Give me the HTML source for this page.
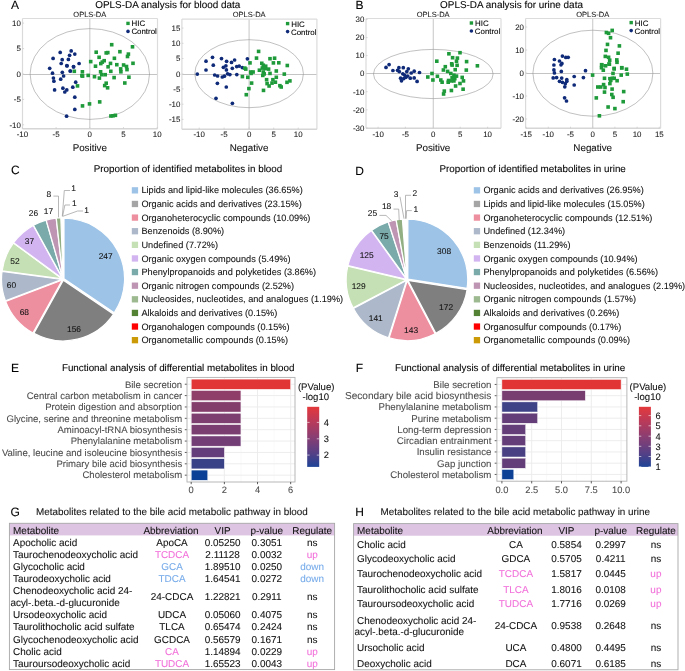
<!DOCTYPE html>
<html><head><meta charset="utf-8"><style>
html,body{margin:0;padding:0;background:#fff;}
body{width:685px;height:671px;overflow:hidden;}
svg{display:block;font-family:"Liberation Sans", sans-serif;will-change:transform;} text{stroke:currentColor;stroke-width:0.08px;text-rendering:geometricPrecision;}
</style></head><body>
<svg width="685" height="671" viewBox="0 0 685 671">
<defs><linearGradient id="cbgrad" x1="0" y1="0" x2="0" y2="1">
<stop offset="0" stop-color="#E4393B"/><stop offset="0.25" stop-color="#B83A5A"/><stop offset="0.5" stop-color="#8A3E72"/>
<stop offset="0.75" stop-color="#5A4084"/><stop offset="1" stop-color="#1E4396"/></linearGradient></defs>
<rect width="685" height="671" fill="#fff"/>
<text x="11.00" y="9.00" font-size="12" text-anchor="start" fill="#000" style="color:#000" >A</text>
<text x="355.50" y="9.20" font-size="12" text-anchor="start" fill="#000" style="color:#000" >B</text>
<text x="11.00" y="174.00" font-size="12" text-anchor="start" fill="#000" style="color:#000" >C</text>
<text x="355.20" y="174.80" font-size="12" text-anchor="start" fill="#000" style="color:#000" >D</text>
<text x="11.00" y="371.80" font-size="12" text-anchor="start" fill="#000" style="color:#000" >E</text>
<text x="355.80" y="371.80" font-size="12" text-anchor="start" fill="#000" style="color:#000" >F</text>
<text x="10.60" y="516.30" font-size="12" text-anchor="start" fill="#000" style="color:#000" >G</text>
<text x="355.20" y="516.00" font-size="12" text-anchor="start" fill="#000" style="color:#000" >H</text>
<line x1="22.50" y1="74.50" x2="157.50" y2="74.50" stroke="#c4c4c4" stroke-width="1.0" />
<line x1="89.80" y1="18.50" x2="89.80" y2="128.70" stroke="#d0d0d0" stroke-width="1.2" />
<ellipse cx="89.8" cy="74.0" rx="59.7" ry="45.4" fill="none" stroke="#8e8e8e" stroke-width="0.55"/>
<line x1="22.50" y1="18.50" x2="157.50" y2="18.50" stroke="#dcdcdc" stroke-width="1.2" />
<line x1="22.50" y1="18.50" x2="22.50" y2="128.70" stroke="#dadada" stroke-width="1.2" />
<line x1="157.50" y1="18.50" x2="157.50" y2="128.70" stroke="#dcdcdc" stroke-width="1.2" />
<line x1="22.50" y1="128.70" x2="157.50" y2="128.70" stroke="#d6d6d6" stroke-width="1.5" />
<line x1="22.40" y1="127.10" x2="22.40" y2="128.70" stroke="#c8c8c8" stroke-width="0.7" />
<text x="22.40" y="137.00" font-size="7.9" text-anchor="middle" fill="#222" style="color:#222" >-10</text>
<line x1="56.10" y1="127.10" x2="56.10" y2="128.70" stroke="#c8c8c8" stroke-width="0.7" />
<text x="56.10" y="137.00" font-size="7.9" text-anchor="middle" fill="#222" style="color:#222" >-5</text>
<line x1="89.80" y1="127.10" x2="89.80" y2="128.70" stroke="#c8c8c8" stroke-width="0.7" />
<text x="89.80" y="137.00" font-size="7.9" text-anchor="middle" fill="#222" style="color:#222" >0</text>
<line x1="123.50" y1="127.10" x2="123.50" y2="128.70" stroke="#c8c8c8" stroke-width="0.7" />
<text x="123.50" y="137.00" font-size="7.9" text-anchor="middle" fill="#222" style="color:#222" >5</text>
<line x1="157.20" y1="127.10" x2="157.20" y2="128.70" stroke="#c8c8c8" stroke-width="0.7" />
<text x="157.20" y="137.00" font-size="7.9" text-anchor="middle" fill="#222" style="color:#222" >10</text>
<line x1="22.50" y1="23.10" x2="24.10" y2="23.10" stroke="#c8c8c8" stroke-width="0.7" />
<text x="20.90" y="25.90" font-size="7.9" text-anchor="end" fill="#222" style="color:#222" >10</text>
<line x1="22.50" y1="48.60" x2="24.10" y2="48.60" stroke="#c8c8c8" stroke-width="0.7" />
<text x="20.90" y="51.40" font-size="7.9" text-anchor="end" fill="#222" style="color:#222" >5</text>
<line x1="22.50" y1="74.00" x2="24.10" y2="74.00" stroke="#c8c8c8" stroke-width="0.7" />
<text x="20.90" y="76.80" font-size="7.9" text-anchor="end" fill="#222" style="color:#222" >0</text>
<line x1="22.50" y1="99.40" x2="24.10" y2="99.40" stroke="#c8c8c8" stroke-width="0.7" />
<text x="20.90" y="102.20" font-size="7.9" text-anchor="end" fill="#222" style="color:#222" >-5</text>
<line x1="22.50" y1="124.80" x2="24.10" y2="124.80" stroke="#c8c8c8" stroke-width="0.7" />
<text x="20.90" y="127.60" font-size="7.9" text-anchor="end" fill="#222" style="color:#222" >-10</text>
<circle cx="60.2" cy="52.4" r="1.85" fill="#0e2a78"/>
<circle cx="71.2" cy="50.9" r="1.85" fill="#0e2a78"/>
<circle cx="74.8" cy="54.1" r="1.85" fill="#0e2a78"/>
<circle cx="69.6" cy="55.3" r="1.85" fill="#0e2a78"/>
<circle cx="53.1" cy="58.4" r="1.85" fill="#0e2a78"/>
<circle cx="62.2" cy="59.7" r="1.85" fill="#0e2a78"/>
<circle cx="68.4" cy="59.4" r="1.85" fill="#0e2a78"/>
<circle cx="79.1" cy="63.5" r="1.85" fill="#0e2a78"/>
<circle cx="61.2" cy="63.5" r="1.85" fill="#0e2a78"/>
<circle cx="66.8" cy="65.7" r="1.85" fill="#0e2a78"/>
<circle cx="73.5" cy="66.6" r="1.85" fill="#0e2a78"/>
<circle cx="49.7" cy="68.3" r="1.85" fill="#0e2a78"/>
<circle cx="70.2" cy="71.0" r="1.85" fill="#0e2a78"/>
<circle cx="52.5" cy="73.2" r="1.85" fill="#0e2a78"/>
<circle cx="62.3" cy="72.3" r="1.85" fill="#0e2a78"/>
<circle cx="63.6" cy="76.0" r="1.85" fill="#0e2a78"/>
<circle cx="60.7" cy="79.2" r="1.85" fill="#0e2a78"/>
<circle cx="53.4" cy="78.0" r="1.85" fill="#0e2a78"/>
<circle cx="53.9" cy="81.2" r="1.85" fill="#0e2a78"/>
<circle cx="75.7" cy="82.2" r="1.85" fill="#0e2a78"/>
<circle cx="72.8" cy="87.2" r="1.85" fill="#0e2a78"/>
<circle cx="62.9" cy="88.2" r="1.85" fill="#0e2a78"/>
<circle cx="66.8" cy="89.9" r="1.85" fill="#0e2a78"/>
<circle cx="64.8" cy="92.0" r="1.85" fill="#0e2a78"/>
<circle cx="54.6" cy="89.9" r="1.85" fill="#0e2a78"/>
<circle cx="74.8" cy="97.2" r="1.85" fill="#0e2a78"/>
<circle cx="74.8" cy="109.4" r="1.85" fill="#0e2a78"/>
<circle cx="66.6" cy="116.2" r="1.85" fill="#0e2a78"/>
<circle cx="67.1" cy="65.8" r="1.85" fill="#0e2a78"/>
<circle cx="73.6" cy="66.9" r="1.85" fill="#0e2a78"/>
<circle cx="70.4" cy="71.0" r="1.85" fill="#0e2a78"/>
<rect x="109.9" y="42.9" width="3.6" height="3.6" fill="#1f9a3a"/>
<rect x="130.7" y="45.0" width="3.6" height="3.6" fill="#1f9a3a"/>
<rect x="94.4" y="50.4" width="3.6" height="3.6" fill="#1f9a3a"/>
<rect x="104.4" y="51.1" width="3.6" height="3.6" fill="#1f9a3a"/>
<rect x="106.0" y="50.8" width="3.6" height="3.6" fill="#1f9a3a"/>
<rect x="118.1" y="49.9" width="3.6" height="3.6" fill="#1f9a3a"/>
<rect x="126.6" y="52.3" width="3.6" height="3.6" fill="#1f9a3a"/>
<rect x="125.7" y="54.7" width="3.6" height="3.6" fill="#1f9a3a"/>
<rect x="97.3" y="55.5" width="3.6" height="3.6" fill="#1f9a3a"/>
<rect x="112.6" y="56.5" width="3.6" height="3.6" fill="#1f9a3a"/>
<rect x="88.9" y="59.8" width="3.6" height="3.6" fill="#1f9a3a"/>
<rect x="102.4" y="58.9" width="3.6" height="3.6" fill="#1f9a3a"/>
<rect x="100.5" y="60.3" width="3.6" height="3.6" fill="#1f9a3a"/>
<rect x="99.0" y="61.8" width="3.6" height="3.6" fill="#1f9a3a"/>
<rect x="108.7" y="61.6" width="3.6" height="3.6" fill="#1f9a3a"/>
<rect x="115.0" y="62.9" width="3.6" height="3.6" fill="#1f9a3a"/>
<rect x="121.8" y="63.2" width="3.6" height="3.6" fill="#1f9a3a"/>
<rect x="124.7" y="64.7" width="3.6" height="3.6" fill="#1f9a3a"/>
<rect x="131.2" y="61.5" width="3.6" height="3.6" fill="#1f9a3a"/>
<rect x="93.7" y="64.4" width="3.6" height="3.6" fill="#1f9a3a"/>
<rect x="106.3" y="65.0" width="3.6" height="3.6" fill="#1f9a3a"/>
<rect x="118.9" y="67.1" width="3.6" height="3.6" fill="#1f9a3a"/>
<rect x="125.2" y="67.8" width="3.6" height="3.6" fill="#1f9a3a"/>
<rect x="119.1" y="70.0" width="3.6" height="3.6" fill="#1f9a3a"/>
<rect x="109.0" y="69.5" width="3.6" height="3.6" fill="#1f9a3a"/>
<rect x="98.8" y="70.0" width="3.6" height="3.6" fill="#1f9a3a"/>
<rect x="80.6" y="70.0" width="3.6" height="3.6" fill="#1f9a3a"/>
<rect x="80.1" y="73.9" width="3.6" height="3.6" fill="#1f9a3a"/>
<rect x="86.4" y="73.6" width="3.6" height="3.6" fill="#1f9a3a"/>
<rect x="92.7" y="74.9" width="3.6" height="3.6" fill="#1f9a3a"/>
<rect x="97.6" y="76.3" width="3.6" height="3.6" fill="#1f9a3a"/>
<rect x="100.0" y="72.9" width="3.6" height="3.6" fill="#1f9a3a"/>
<rect x="103.4" y="72.9" width="3.6" height="3.6" fill="#1f9a3a"/>
<rect x="112.3" y="75.8" width="3.6" height="3.6" fill="#1f9a3a"/>
<rect x="127.1" y="75.4" width="3.6" height="3.6" fill="#1f9a3a"/>
<rect x="123.0" y="81.2" width="3.6" height="3.6" fill="#1f9a3a"/>
<rect x="104.4" y="81.4" width="3.6" height="3.6" fill="#1f9a3a"/>
<rect x="102.9" y="83.8" width="3.6" height="3.6" fill="#1f9a3a"/>
<rect x="105.8" y="86.0" width="3.6" height="3.6" fill="#1f9a3a"/>
<rect x="72.5" y="69.5" width="3.6" height="3.6" fill="#1f9a3a"/>
<rect x="75.7" y="84.1" width="3.6" height="3.6" fill="#1f9a3a"/>
<rect x="80.8" y="74.3" width="3.6" height="3.6" fill="#1f9a3a"/>
<rect x="80.7" y="104.1" width="3.6" height="3.6" fill="#1f9a3a"/>
<rect x="87.7" y="102.1" width="3.6" height="3.6" fill="#1f9a3a"/>
<rect x="97.9" y="100.1" width="3.6" height="3.6" fill="#1f9a3a"/>
<rect x="109.1" y="114.2" width="3.6" height="3.6" fill="#1f9a3a"/>
<rect x="111.2" y="114.0" width="3.6" height="3.6" fill="#1f9a3a"/>
<rect x="113.6" y="113.5" width="3.6" height="3.6" fill="#1f9a3a"/>
<rect x="126.30" y="21.70" width="3.40" height="3.40" fill="#1f9a3a" />
<circle cx="128" cy="31.4" r="1.8" fill="#0e2a78"/>
<text x="131.60" y="26.40" font-size="7.9" text-anchor="start" fill="#000" style="color:#000" >HIC</text>
<text x="131.40" y="34.30" font-size="7.9" text-anchor="start" fill="#000" style="color:#000" >Control</text>
<text x="89.80" y="16.70" font-size="7.5" text-anchor="middle" fill="#222" style="color:#222" >OPLS-DA</text>
<text x="89.80" y="150.80" font-size="9.8" text-anchor="middle" fill="#111" style="color:#111" >Positive</text>
<line x1="181.90" y1="74.50" x2="316.90" y2="74.50" stroke="#c4c4c4" stroke-width="1.0" />
<line x1="249.10" y1="19.10" x2="249.10" y2="129.20" stroke="#d0d0d0" stroke-width="1.2" />
<ellipse cx="249.1" cy="73.7" rx="54.3" ry="34.0" fill="none" stroke="#8e8e8e" stroke-width="0.55"/>
<line x1="181.90" y1="19.10" x2="316.90" y2="19.10" stroke="#dcdcdc" stroke-width="1.2" />
<line x1="181.90" y1="19.10" x2="181.90" y2="129.20" stroke="#dadada" stroke-width="1.2" />
<line x1="316.90" y1="19.10" x2="316.90" y2="129.20" stroke="#dcdcdc" stroke-width="1.2" />
<line x1="181.90" y1="129.20" x2="316.90" y2="129.20" stroke="#d6d6d6" stroke-width="1.5" />
<line x1="199.20" y1="127.60" x2="199.20" y2="129.20" stroke="#c8c8c8" stroke-width="0.7" />
<text x="199.20" y="137.00" font-size="7.9" text-anchor="middle" fill="#222" style="color:#222" >-10</text>
<line x1="224.10" y1="127.60" x2="224.10" y2="129.20" stroke="#c8c8c8" stroke-width="0.7" />
<text x="224.10" y="137.00" font-size="7.9" text-anchor="middle" fill="#222" style="color:#222" >-5</text>
<line x1="249.10" y1="127.60" x2="249.10" y2="129.20" stroke="#c8c8c8" stroke-width="0.7" />
<text x="249.10" y="137.00" font-size="7.9" text-anchor="middle" fill="#222" style="color:#222" >0</text>
<line x1="273.70" y1="127.60" x2="273.70" y2="129.20" stroke="#c8c8c8" stroke-width="0.7" />
<text x="273.70" y="137.00" font-size="7.9" text-anchor="middle" fill="#222" style="color:#222" >5</text>
<line x1="298.20" y1="127.60" x2="298.20" y2="129.20" stroke="#c8c8c8" stroke-width="0.7" />
<text x="298.20" y="137.00" font-size="7.9" text-anchor="middle" fill="#222" style="color:#222" >10</text>
<line x1="181.90" y1="28.10" x2="183.50" y2="28.10" stroke="#c8c8c8" stroke-width="0.7" />
<text x="180.30" y="30.90" font-size="7.9" text-anchor="end" fill="#222" style="color:#222" >15</text>
<line x1="181.90" y1="43.30" x2="183.50" y2="43.30" stroke="#c8c8c8" stroke-width="0.7" />
<text x="180.30" y="46.10" font-size="7.9" text-anchor="end" fill="#222" style="color:#222" >10</text>
<line x1="181.90" y1="58.50" x2="183.50" y2="58.50" stroke="#c8c8c8" stroke-width="0.7" />
<text x="180.30" y="61.30" font-size="7.9" text-anchor="end" fill="#222" style="color:#222" >5</text>
<line x1="181.90" y1="74.00" x2="183.50" y2="74.00" stroke="#c8c8c8" stroke-width="0.7" />
<text x="180.30" y="76.80" font-size="7.9" text-anchor="end" fill="#222" style="color:#222" >0</text>
<line x1="181.90" y1="88.90" x2="183.50" y2="88.90" stroke="#c8c8c8" stroke-width="0.7" />
<text x="180.30" y="91.70" font-size="7.9" text-anchor="end" fill="#222" style="color:#222" >-5</text>
<line x1="181.90" y1="104.20" x2="183.50" y2="104.20" stroke="#c8c8c8" stroke-width="0.7" />
<text x="180.30" y="107.00" font-size="7.9" text-anchor="end" fill="#222" style="color:#222" >-10</text>
<line x1="181.90" y1="119.40" x2="183.50" y2="119.40" stroke="#c8c8c8" stroke-width="0.7" />
<text x="180.30" y="122.20" font-size="7.9" text-anchor="end" fill="#222" style="color:#222" >-15</text>
<circle cx="212.5" cy="57.3" r="1.85" fill="#0e2a78"/>
<circle cx="206.0" cy="61.2" r="1.85" fill="#0e2a78"/>
<circle cx="221.5" cy="58.6" r="1.85" fill="#0e2a78"/>
<circle cx="226.6" cy="61.3" r="1.85" fill="#0e2a78"/>
<circle cx="234.6" cy="60.0" r="1.85" fill="#0e2a78"/>
<circle cx="231.5" cy="62.4" r="1.85" fill="#0e2a78"/>
<circle cx="247.4" cy="58.8" r="1.85" fill="#0e2a78"/>
<circle cx="213.3" cy="65.2" r="1.85" fill="#0e2a78"/>
<circle cx="225.9" cy="65.8" r="1.85" fill="#0e2a78"/>
<circle cx="223.4" cy="67.3" r="1.85" fill="#0e2a78"/>
<circle cx="232.3" cy="68.3" r="1.85" fill="#0e2a78"/>
<circle cx="236.7" cy="66.6" r="1.85" fill="#0e2a78"/>
<circle cx="239.2" cy="66.1" r="1.85" fill="#0e2a78"/>
<circle cx="242.3" cy="67.6" r="1.85" fill="#0e2a78"/>
<circle cx="206.0" cy="70.0" r="1.85" fill="#0e2a78"/>
<circle cx="226.4" cy="69.9" r="1.85" fill="#0e2a78"/>
<circle cx="197.3" cy="74.1" r="1.85" fill="#0e2a78"/>
<circle cx="214.7" cy="75.0" r="1.85" fill="#0e2a78"/>
<circle cx="217.6" cy="76.0" r="1.85" fill="#0e2a78"/>
<circle cx="222.3" cy="77.0" r="1.85" fill="#0e2a78"/>
<circle cx="224.4" cy="76.2" r="1.85" fill="#0e2a78"/>
<circle cx="227.6" cy="73.8" r="1.85" fill="#0e2a78"/>
<circle cx="229.9" cy="74.6" r="1.85" fill="#0e2a78"/>
<circle cx="236.8" cy="74.6" r="1.85" fill="#0e2a78"/>
<circle cx="217.4" cy="83.3" r="1.85" fill="#0e2a78"/>
<circle cx="226.3" cy="87.0" r="1.85" fill="#0e2a78"/>
<circle cx="216.0" cy="98.3" r="1.85" fill="#0e2a78"/>
<circle cx="232.4" cy="103.3" r="1.85" fill="#0e2a78"/>
<rect x="256.8" y="49.6" width="3.6" height="3.6" fill="#1f9a3a"/>
<rect x="254.7" y="56.3" width="3.6" height="3.6" fill="#1f9a3a"/>
<rect x="268.2" y="56.9" width="3.6" height="3.6" fill="#1f9a3a"/>
<rect x="272.8" y="56.4" width="3.6" height="3.6" fill="#1f9a3a"/>
<rect x="248.2" y="61.1" width="3.6" height="3.6" fill="#1f9a3a"/>
<rect x="271.6" y="61.1" width="3.6" height="3.6" fill="#1f9a3a"/>
<rect x="277.0" y="61.0" width="3.6" height="3.6" fill="#1f9a3a"/>
<rect x="285.5" y="63.7" width="3.6" height="3.6" fill="#1f9a3a"/>
<rect x="260.0" y="61.5" width="3.6" height="3.6" fill="#1f9a3a"/>
<rect x="261.5" y="63.4" width="3.6" height="3.6" fill="#1f9a3a"/>
<rect x="263.9" y="64.4" width="3.6" height="3.6" fill="#1f9a3a"/>
<rect x="260.5" y="66.3" width="3.6" height="3.6" fill="#1f9a3a"/>
<rect x="263.4" y="66.8" width="3.6" height="3.6" fill="#1f9a3a"/>
<rect x="266.8" y="67.3" width="3.6" height="3.6" fill="#1f9a3a"/>
<rect x="257.6" y="68.4" width="3.6" height="3.6" fill="#1f9a3a"/>
<rect x="261.5" y="70.2" width="3.6" height="3.6" fill="#1f9a3a"/>
<rect x="261.0" y="73.6" width="3.6" height="3.6" fill="#1f9a3a"/>
<rect x="262.4" y="72.1" width="3.6" height="3.6" fill="#1f9a3a"/>
<rect x="244.0" y="67.3" width="3.6" height="3.6" fill="#1f9a3a"/>
<rect x="243.0" y="66.3" width="3.6" height="3.6" fill="#1f9a3a"/>
<rect x="248.9" y="70.2" width="3.6" height="3.6" fill="#1f9a3a"/>
<rect x="251.3" y="70.2" width="3.6" height="3.6" fill="#1f9a3a"/>
<rect x="249.3" y="71.6" width="3.6" height="3.6" fill="#1f9a3a"/>
<rect x="274.5" y="69.2" width="3.6" height="3.6" fill="#1f9a3a"/>
<rect x="268.2" y="71.6" width="3.6" height="3.6" fill="#1f9a3a"/>
<rect x="282.5" y="72.3" width="3.6" height="3.6" fill="#1f9a3a"/>
<rect x="240.6" y="74.8" width="3.6" height="3.6" fill="#1f9a3a"/>
<rect x="246.0" y="75.5" width="3.6" height="3.6" fill="#1f9a3a"/>
<rect x="274.5" y="75.5" width="3.6" height="3.6" fill="#1f9a3a"/>
<rect x="264.8" y="77.9" width="3.6" height="3.6" fill="#1f9a3a"/>
<rect x="271.1" y="77.9" width="3.6" height="3.6" fill="#1f9a3a"/>
<rect x="273.6" y="80.4" width="3.6" height="3.6" fill="#1f9a3a"/>
<rect x="288.1" y="79.1" width="3.6" height="3.6" fill="#1f9a3a"/>
<rect x="285.2" y="80.5" width="3.6" height="3.6" fill="#1f9a3a"/>
<rect x="249.8" y="81.3" width="3.6" height="3.6" fill="#1f9a3a"/>
<rect x="265.3" y="81.8" width="3.6" height="3.6" fill="#1f9a3a"/>
<rect x="270.2" y="81.3" width="3.6" height="3.6" fill="#1f9a3a"/>
<rect x="267.3" y="84.2" width="3.6" height="3.6" fill="#1f9a3a"/>
<rect x="278.1" y="83.9" width="3.6" height="3.6" fill="#1f9a3a"/>
<rect x="279.4" y="85.2" width="3.6" height="3.6" fill="#1f9a3a"/>
<rect x="247.1" y="86.8" width="3.6" height="3.6" fill="#1f9a3a"/>
<rect x="261.7" y="88.6" width="3.6" height="3.6" fill="#1f9a3a"/>
<rect x="244.5" y="92.9" width="3.6" height="3.6" fill="#1f9a3a"/>
<rect x="285.90" y="21.90" width="3.40" height="3.40" fill="#1f9a3a" />
<circle cx="287.6" cy="31.6" r="1.8" fill="#0e2a78"/>
<text x="291.20" y="26.60" font-size="7.9" text-anchor="start" fill="#000" style="color:#000" >HIC</text>
<text x="291.00" y="34.50" font-size="7.9" text-anchor="start" fill="#000" style="color:#000" >Control</text>
<text x="249.10" y="16.70" font-size="7.5" text-anchor="middle" fill="#222" style="color:#222" >OPLS-DA</text>
<text x="249.10" y="150.80" font-size="9.8" text-anchor="middle" fill="#111" style="color:#111" >Negative</text>
<line x1="366.00" y1="73.50" x2="501.00" y2="73.50" stroke="#c4c4c4" stroke-width="1.0" />
<line x1="433.30" y1="18.50" x2="433.30" y2="128.30" stroke="#d0d0d0" stroke-width="1.2" />
<ellipse cx="433.3" cy="74.0" rx="59.8" ry="24.6" fill="none" stroke="#8e8e8e" stroke-width="0.55"/>
<line x1="366.00" y1="18.50" x2="501.00" y2="18.50" stroke="#dcdcdc" stroke-width="1.2" />
<line x1="366.00" y1="18.50" x2="366.00" y2="128.30" stroke="#dadada" stroke-width="1.2" />
<line x1="501.00" y1="18.50" x2="501.00" y2="128.30" stroke="#dcdcdc" stroke-width="1.2" />
<line x1="366.00" y1="128.30" x2="501.00" y2="128.30" stroke="#d6d6d6" stroke-width="1.5" />
<line x1="378.10" y1="126.70" x2="378.10" y2="128.30" stroke="#c8c8c8" stroke-width="0.7" />
<text x="378.10" y="137.00" font-size="7.9" text-anchor="middle" fill="#222" style="color:#222" >-10</text>
<line x1="405.40" y1="126.70" x2="405.40" y2="128.30" stroke="#c8c8c8" stroke-width="0.7" />
<text x="405.40" y="137.00" font-size="7.9" text-anchor="middle" fill="#222" style="color:#222" >-5</text>
<line x1="433.30" y1="126.70" x2="433.30" y2="128.30" stroke="#c8c8c8" stroke-width="0.7" />
<text x="433.30" y="137.00" font-size="7.9" text-anchor="middle" fill="#222" style="color:#222" >0</text>
<line x1="460.20" y1="126.70" x2="460.20" y2="128.30" stroke="#c8c8c8" stroke-width="0.7" />
<text x="460.20" y="137.00" font-size="7.9" text-anchor="middle" fill="#222" style="color:#222" >5</text>
<line x1="487.60" y1="126.70" x2="487.60" y2="128.30" stroke="#c8c8c8" stroke-width="0.7" />
<text x="487.60" y="137.00" font-size="7.9" text-anchor="middle" fill="#222" style="color:#222" >10</text>
<line x1="366.00" y1="19.50" x2="367.60" y2="19.50" stroke="#c8c8c8" stroke-width="0.7" />
<text x="364.40" y="22.30" font-size="7.9" text-anchor="end" fill="#222" style="color:#222" >30</text>
<line x1="366.00" y1="37.60" x2="367.60" y2="37.60" stroke="#c8c8c8" stroke-width="0.7" />
<text x="364.40" y="40.40" font-size="7.9" text-anchor="end" fill="#222" style="color:#222" >20</text>
<line x1="366.00" y1="55.60" x2="367.60" y2="55.60" stroke="#c8c8c8" stroke-width="0.7" />
<text x="364.40" y="58.40" font-size="7.9" text-anchor="end" fill="#222" style="color:#222" >10</text>
<line x1="366.00" y1="73.60" x2="367.60" y2="73.60" stroke="#c8c8c8" stroke-width="0.7" />
<text x="364.40" y="76.40" font-size="7.9" text-anchor="end" fill="#222" style="color:#222" >0</text>
<line x1="366.00" y1="91.70" x2="367.60" y2="91.70" stroke="#c8c8c8" stroke-width="0.7" />
<text x="364.40" y="94.50" font-size="7.9" text-anchor="end" fill="#222" style="color:#222" >-10</text>
<line x1="366.00" y1="109.80" x2="367.60" y2="109.80" stroke="#c8c8c8" stroke-width="0.7" />
<text x="364.40" y="112.60" font-size="7.9" text-anchor="end" fill="#222" style="color:#222" >-20</text>
<line x1="366.00" y1="127.90" x2="367.60" y2="127.90" stroke="#c8c8c8" stroke-width="0.7" />
<text x="364.40" y="130.70" font-size="7.9" text-anchor="end" fill="#222" style="color:#222" >-30</text>
<circle cx="389.1" cy="64.6" r="1.85" fill="#0e2a78"/>
<circle cx="386.0" cy="67.4" r="1.85" fill="#0e2a78"/>
<circle cx="392.9" cy="70.5" r="1.85" fill="#0e2a78"/>
<circle cx="398.9" cy="67.7" r="1.85" fill="#0e2a78"/>
<circle cx="403.3" cy="67.7" r="1.85" fill="#0e2a78"/>
<circle cx="408.3" cy="68.8" r="1.85" fill="#0e2a78"/>
<circle cx="397.6" cy="70.3" r="1.85" fill="#0e2a78"/>
<circle cx="399.3" cy="71.6" r="1.85" fill="#0e2a78"/>
<circle cx="406.8" cy="71.6" r="1.85" fill="#0e2a78"/>
<circle cx="414.2" cy="71.2" r="1.85" fill="#0e2a78"/>
<circle cx="411.2" cy="73.0" r="1.85" fill="#0e2a78"/>
<circle cx="419.5" cy="72.5" r="1.85" fill="#0e2a78"/>
<circle cx="402.8" cy="73.8" r="1.85" fill="#0e2a78"/>
<circle cx="404.6" cy="75.1" r="1.85" fill="#0e2a78"/>
<circle cx="407.7" cy="76.0" r="1.85" fill="#0e2a78"/>
<circle cx="405.9" cy="77.3" r="1.85" fill="#0e2a78"/>
<circle cx="400.6" cy="78.2" r="1.85" fill="#0e2a78"/>
<circle cx="403.7" cy="78.6" r="1.85" fill="#0e2a78"/>
<circle cx="410.3" cy="78.2" r="1.85" fill="#0e2a78"/>
<circle cx="414.2" cy="77.9" r="1.85" fill="#0e2a78"/>
<circle cx="401.5" cy="80.8" r="1.85" fill="#0e2a78"/>
<circle cx="417.1" cy="81.4" r="1.85" fill="#0e2a78"/>
<rect x="458.2" y="50.9" width="3.6" height="3.6" fill="#1f9a3a"/>
<rect x="447.1" y="52.0" width="3.6" height="3.6" fill="#1f9a3a"/>
<rect x="450.8" y="55.9" width="3.6" height="3.6" fill="#1f9a3a"/>
<rect x="455.6" y="56.3" width="3.6" height="3.6" fill="#1f9a3a"/>
<rect x="454.7" y="59.4" width="3.6" height="3.6" fill="#1f9a3a"/>
<rect x="435.0" y="59.4" width="3.6" height="3.6" fill="#1f9a3a"/>
<rect x="464.8" y="59.8" width="3.6" height="3.6" fill="#1f9a3a"/>
<rect x="449.9" y="62.0" width="3.6" height="3.6" fill="#1f9a3a"/>
<rect x="450.3" y="63.3" width="3.6" height="3.6" fill="#1f9a3a"/>
<rect x="455.3" y="63.5" width="3.6" height="3.6" fill="#1f9a3a"/>
<rect x="475.6" y="64.0" width="3.6" height="3.6" fill="#1f9a3a"/>
<rect x="443.5" y="64.9" width="3.6" height="3.6" fill="#1f9a3a"/>
<rect x="441.6" y="68.2" width="3.6" height="3.6" fill="#1f9a3a"/>
<rect x="453.4" y="67.9" width="3.6" height="3.6" fill="#1f9a3a"/>
<rect x="464.5" y="68.3" width="3.6" height="3.6" fill="#1f9a3a"/>
<rect x="445.8" y="69.6" width="3.6" height="3.6" fill="#1f9a3a"/>
<rect x="449.0" y="71.7" width="3.6" height="3.6" fill="#1f9a3a"/>
<rect x="430.2" y="71.7" width="3.6" height="3.6" fill="#1f9a3a"/>
<rect x="426.0" y="75.2" width="3.6" height="3.6" fill="#1f9a3a"/>
<rect x="435.6" y="74.5" width="3.6" height="3.6" fill="#1f9a3a"/>
<rect x="431.1" y="78.2" width="3.6" height="3.6" fill="#1f9a3a"/>
<rect x="439.0" y="78.2" width="3.6" height="3.6" fill="#1f9a3a"/>
<rect x="440.3" y="80.4" width="3.6" height="3.6" fill="#1f9a3a"/>
<rect x="452.1" y="73.4" width="3.6" height="3.6" fill="#1f9a3a"/>
<rect x="454.7" y="74.3" width="3.6" height="3.6" fill="#1f9a3a"/>
<rect x="450.3" y="76.0" width="3.6" height="3.6" fill="#1f9a3a"/>
<rect x="453.0" y="76.9" width="3.6" height="3.6" fill="#1f9a3a"/>
<rect x="460.4" y="75.6" width="3.6" height="3.6" fill="#1f9a3a"/>
<rect x="446.8" y="78.7" width="3.6" height="3.6" fill="#1f9a3a"/>
<rect x="449.5" y="79.1" width="3.6" height="3.6" fill="#1f9a3a"/>
<rect x="452.1" y="79.1" width="3.6" height="3.6" fill="#1f9a3a"/>
<rect x="446.4" y="80.4" width="3.6" height="3.6" fill="#1f9a3a"/>
<rect x="461.7" y="79.1" width="3.6" height="3.6" fill="#1f9a3a"/>
<rect x="458.2" y="81.7" width="3.6" height="3.6" fill="#1f9a3a"/>
<rect x="453.8" y="84.2" width="3.6" height="3.6" fill="#1f9a3a"/>
<rect x="461.3" y="87.4" width="3.6" height="3.6" fill="#1f9a3a"/>
<rect x="449.6" y="88.7" width="3.6" height="3.6" fill="#1f9a3a"/>
<rect x="442.5" y="89.3" width="3.6" height="3.6" fill="#1f9a3a"/>
<rect x="441.8" y="92.2" width="3.6" height="3.6" fill="#1f9a3a"/>
<rect x="469.70" y="21.30" width="3.40" height="3.40" fill="#1f9a3a" />
<circle cx="471.4" cy="31.0" r="1.8" fill="#0e2a78"/>
<text x="475.00" y="26.00" font-size="7.9" text-anchor="start" fill="#000" style="color:#000" >HIC</text>
<text x="474.80" y="33.90" font-size="7.9" text-anchor="start" fill="#000" style="color:#000" >Control</text>
<text x="433.10" y="16.70" font-size="7.5" text-anchor="middle" fill="#222" style="color:#222" >OPLS-DA</text>
<text x="433.10" y="150.80" font-size="9.8" text-anchor="middle" fill="#111" style="color:#111" >Positive</text>
<line x1="525.60" y1="73.50" x2="660.60" y2="73.50" stroke="#c4c4c4" stroke-width="1.0" />
<line x1="592.70" y1="18.50" x2="592.70" y2="128.30" stroke="#d0d0d0" stroke-width="1.2" />
<ellipse cx="592.9" cy="73.2" rx="60.0" ry="43.0" fill="none" stroke="#8e8e8e" stroke-width="0.55"/>
<line x1="525.60" y1="18.50" x2="660.60" y2="18.50" stroke="#dcdcdc" stroke-width="1.2" />
<line x1="525.60" y1="18.50" x2="525.60" y2="128.30" stroke="#dadada" stroke-width="1.2" />
<line x1="660.60" y1="18.50" x2="660.60" y2="128.30" stroke="#dcdcdc" stroke-width="1.2" />
<line x1="525.60" y1="128.30" x2="660.60" y2="128.30" stroke="#d6d6d6" stroke-width="1.5" />
<line x1="526.20" y1="126.70" x2="526.20" y2="128.30" stroke="#c8c8c8" stroke-width="0.7" />
<text x="526.20" y="137.00" font-size="7.9" text-anchor="middle" fill="#222" style="color:#222" >-15</text>
<line x1="548.30" y1="126.70" x2="548.30" y2="128.30" stroke="#c8c8c8" stroke-width="0.7" />
<text x="548.30" y="137.00" font-size="7.9" text-anchor="middle" fill="#222" style="color:#222" >-10</text>
<line x1="570.50" y1="126.70" x2="570.50" y2="128.30" stroke="#c8c8c8" stroke-width="0.7" />
<text x="570.50" y="137.00" font-size="7.9" text-anchor="middle" fill="#222" style="color:#222" >-5</text>
<line x1="592.70" y1="126.70" x2="592.70" y2="128.30" stroke="#c8c8c8" stroke-width="0.7" />
<text x="592.70" y="137.00" font-size="7.9" text-anchor="middle" fill="#222" style="color:#222" >0</text>
<line x1="614.90" y1="126.70" x2="614.90" y2="128.30" stroke="#c8c8c8" stroke-width="0.7" />
<text x="614.90" y="137.00" font-size="7.9" text-anchor="middle" fill="#222" style="color:#222" >5</text>
<line x1="637.10" y1="126.70" x2="637.10" y2="128.30" stroke="#c8c8c8" stroke-width="0.7" />
<text x="637.10" y="137.00" font-size="7.9" text-anchor="middle" fill="#222" style="color:#222" >10</text>
<line x1="659.30" y1="126.70" x2="659.30" y2="128.30" stroke="#c8c8c8" stroke-width="0.7" />
<text x="659.30" y="137.00" font-size="7.9" text-anchor="middle" fill="#222" style="color:#222" >15</text>
<line x1="525.60" y1="27.00" x2="527.20" y2="27.00" stroke="#c8c8c8" stroke-width="0.7" />
<text x="524.00" y="29.80" font-size="7.9" text-anchor="end" fill="#222" style="color:#222" >20</text>
<line x1="525.60" y1="50.00" x2="527.20" y2="50.00" stroke="#c8c8c8" stroke-width="0.7" />
<text x="524.00" y="52.80" font-size="7.9" text-anchor="end" fill="#222" style="color:#222" >10</text>
<line x1="525.60" y1="73.00" x2="527.20" y2="73.00" stroke="#c8c8c8" stroke-width="0.7" />
<text x="524.00" y="75.80" font-size="7.9" text-anchor="end" fill="#222" style="color:#222" >0</text>
<line x1="525.60" y1="96.00" x2="527.20" y2="96.00" stroke="#c8c8c8" stroke-width="0.7" />
<text x="524.00" y="98.80" font-size="7.9" text-anchor="end" fill="#222" style="color:#222" >-10</text>
<line x1="525.60" y1="119.00" x2="527.20" y2="119.00" stroke="#c8c8c8" stroke-width="0.7" />
<text x="524.00" y="121.80" font-size="7.9" text-anchor="end" fill="#222" style="color:#222" >-20</text>
<circle cx="562.4" cy="56.1" r="1.85" fill="#0e2a78"/>
<circle cx="565.8" cy="57.4" r="1.85" fill="#0e2a78"/>
<circle cx="568.2" cy="57.3" r="1.85" fill="#0e2a78"/>
<circle cx="554.4" cy="59.5" r="1.85" fill="#0e2a78"/>
<circle cx="559.5" cy="61.0" r="1.85" fill="#0e2a78"/>
<circle cx="561.9" cy="63.4" r="1.85" fill="#0e2a78"/>
<circle cx="561.0" cy="64.8" r="1.85" fill="#0e2a78"/>
<circle cx="553.9" cy="65.0" r="1.85" fill="#0e2a78"/>
<circle cx="553.9" cy="69.9" r="1.85" fill="#0e2a78"/>
<circle cx="554.4" cy="72.9" r="1.85" fill="#0e2a78"/>
<circle cx="561.3" cy="71.4" r="1.85" fill="#0e2a78"/>
<circle cx="585.5" cy="70.7" r="1.85" fill="#0e2a78"/>
<circle cx="574.2" cy="76.5" r="1.85" fill="#0e2a78"/>
<circle cx="583.4" cy="77.6" r="1.85" fill="#0e2a78"/>
<circle cx="553.2" cy="77.9" r="1.85" fill="#0e2a78"/>
<circle cx="556.6" cy="77.6" r="1.85" fill="#0e2a78"/>
<circle cx="561.7" cy="78.1" r="1.85" fill="#0e2a78"/>
<circle cx="566.8" cy="79.6" r="1.85" fill="#0e2a78"/>
<circle cx="566.8" cy="81.3" r="1.85" fill="#0e2a78"/>
<circle cx="559.5" cy="81.3" r="1.85" fill="#0e2a78"/>
<circle cx="562.4" cy="82.3" r="1.85" fill="#0e2a78"/>
<circle cx="565.3" cy="83.7" r="1.85" fill="#0e2a78"/>
<circle cx="564.8" cy="86.8" r="1.85" fill="#0e2a78"/>
<circle cx="574.2" cy="85.0" r="1.85" fill="#0e2a78"/>
<circle cx="564.6" cy="97.8" r="1.85" fill="#0e2a78"/>
<circle cx="566.5" cy="101.0" r="1.85" fill="#0e2a78"/>
<rect x="610.4" y="28.6" width="3.6" height="3.6" fill="#1f9a3a"/>
<rect x="604.6" y="30.7" width="3.6" height="3.6" fill="#1f9a3a"/>
<rect x="606.8" y="31.5" width="3.6" height="3.6" fill="#1f9a3a"/>
<rect x="608.7" y="35.9" width="3.6" height="3.6" fill="#1f9a3a"/>
<rect x="605.7" y="42.6" width="3.6" height="3.6" fill="#1f9a3a"/>
<rect x="617.6" y="44.1" width="3.6" height="3.6" fill="#1f9a3a"/>
<rect x="604.2" y="48.6" width="3.6" height="3.6" fill="#1f9a3a"/>
<rect x="616.3" y="51.4" width="3.6" height="3.6" fill="#1f9a3a"/>
<rect x="603.5" y="54.6" width="3.6" height="3.6" fill="#1f9a3a"/>
<rect x="606.8" y="55.5" width="3.6" height="3.6" fill="#1f9a3a"/>
<rect x="607.9" y="58.4" width="3.6" height="3.6" fill="#1f9a3a"/>
<rect x="615.0" y="58.1" width="3.6" height="3.6" fill="#1f9a3a"/>
<rect x="615.2" y="60.5" width="3.6" height="3.6" fill="#1f9a3a"/>
<rect x="607.2" y="62.2" width="3.6" height="3.6" fill="#1f9a3a"/>
<rect x="600.1" y="63.3" width="3.6" height="3.6" fill="#1f9a3a"/>
<rect x="603.8" y="64.0" width="3.6" height="3.6" fill="#1f9a3a"/>
<rect x="599.7" y="65.9" width="3.6" height="3.6" fill="#1f9a3a"/>
<rect x="612.4" y="66.6" width="3.6" height="3.6" fill="#1f9a3a"/>
<rect x="619.9" y="65.9" width="3.6" height="3.6" fill="#1f9a3a"/>
<rect x="624.7" y="67.4" width="3.6" height="3.6" fill="#1f9a3a"/>
<rect x="599.8" y="62.9" width="3.6" height="3.6" fill="#1f9a3a"/>
<rect x="607.6" y="62.4" width="3.6" height="3.6" fill="#1f9a3a"/>
<rect x="601.5" y="68.4" width="3.6" height="3.6" fill="#1f9a3a"/>
<rect x="612.4" y="67.1" width="3.6" height="3.6" fill="#1f9a3a"/>
<rect x="620.0" y="66.1" width="3.6" height="3.6" fill="#1f9a3a"/>
<rect x="611.2" y="71.6" width="3.6" height="3.6" fill="#1f9a3a"/>
<rect x="619.4" y="73.3" width="3.6" height="3.6" fill="#1f9a3a"/>
<rect x="625.5" y="72.3" width="3.6" height="3.6" fill="#1f9a3a"/>
<rect x="590.8" y="73.3" width="3.6" height="3.6" fill="#1f9a3a"/>
<rect x="602.7" y="76.5" width="3.6" height="3.6" fill="#1f9a3a"/>
<rect x="608.1" y="76.9" width="3.6" height="3.6" fill="#1f9a3a"/>
<rect x="610.5" y="76.5" width="3.6" height="3.6" fill="#1f9a3a"/>
<rect x="612.4" y="76.5" width="3.6" height="3.6" fill="#1f9a3a"/>
<rect x="615.3" y="78.9" width="3.6" height="3.6" fill="#1f9a3a"/>
<rect x="609.0" y="78.6" width="3.6" height="3.6" fill="#1f9a3a"/>
<rect x="608.1" y="81.8" width="3.6" height="3.6" fill="#1f9a3a"/>
<rect x="601.8" y="82.8" width="3.6" height="3.6" fill="#1f9a3a"/>
<rect x="596.0" y="85.2" width="3.6" height="3.6" fill="#1f9a3a"/>
<rect x="598.9" y="85.2" width="3.6" height="3.6" fill="#1f9a3a"/>
<rect x="603.2" y="85.7" width="3.6" height="3.6" fill="#1f9a3a"/>
<rect x="610.3" y="87.3" width="3.6" height="3.6" fill="#1f9a3a"/>
<rect x="602.7" y="90.3" width="3.6" height="3.6" fill="#1f9a3a"/>
<rect x="621.9" y="89.8" width="3.6" height="3.6" fill="#1f9a3a"/>
<rect x="610.0" y="92.7" width="3.6" height="3.6" fill="#1f9a3a"/>
<rect x="611.3" y="95.5" width="3.6" height="3.6" fill="#1f9a3a"/>
<rect x="594.5" y="96.1" width="3.6" height="3.6" fill="#1f9a3a"/>
<rect x="621.4" y="99.9" width="3.6" height="3.6" fill="#1f9a3a"/>
<rect x="606.3" y="105.2" width="3.6" height="3.6" fill="#1f9a3a"/>
<rect x="613.1" y="106.8" width="3.6" height="3.6" fill="#1f9a3a"/>
<rect x="597.6" y="114.0" width="3.6" height="3.6" fill="#1f9a3a"/>
<rect x="629.50" y="20.90" width="3.40" height="3.40" fill="#1f9a3a" />
<circle cx="631.2" cy="30.6" r="1.8" fill="#0e2a78"/>
<text x="634.80" y="25.60" font-size="7.9" text-anchor="start" fill="#000" style="color:#000" >HIC</text>
<text x="634.60" y="33.50" font-size="7.9" text-anchor="start" fill="#000" style="color:#000" >Control</text>
<text x="592.70" y="16.70" font-size="7.5" text-anchor="middle" fill="#222" style="color:#222" >OPLS-DA</text>
<text x="592.70" y="150.80" font-size="9.8" text-anchor="middle" fill="#111" style="color:#111" >Negative</text>
<text x="167.80" y="8.20" font-size="9.93" text-anchor="middle" fill="#000" style="color:#000" >OPLS-DA analysis for blood data</text>
<text x="511.50" y="8.20" font-size="9.93" text-anchor="middle" fill="#000" style="color:#000" >OPLS-DA analysis for urine data</text>
<path d="M63.98,278.83 L63.98,218.23 A60.6,60.6 0 0 1 114.22,312.72 Z" fill="#9DC3E6" stroke="#fff" stroke-width="1.2" stroke-linejoin="round"/>
<path d="M63.33,280.27 L113.57,314.16 A60.6,60.6 0 0 1 33.95,333.27 Z" fill="#7F7F7F" stroke="#fff" stroke-width="1.2" stroke-linejoin="round"/>
<path d="M62.34,279.95 L32.96,332.96 A60.6,60.6 0 0 1 5.66,301.37 Z" fill="#EE8FA0" stroke="#fff" stroke-width="1.2" stroke-linejoin="round"/>
<path d="M62.11,279.41 L5.42,300.83 A60.6,60.6 0 0 1 2.05,271.29 Z" fill="#ADB9CA" stroke="#fff" stroke-width="1.2" stroke-linejoin="round"/>
<path d="M62.17,278.93 L2.12,270.81 A60.6,60.6 0 0 1 13.33,243.05 Z" fill="#C5E0B4" stroke="#fff" stroke-width="1.2" stroke-linejoin="round"/>
<path d="M62.44,278.55 L13.60,242.67 A60.6,60.6 0 0 1 33.25,225.44 Z" fill="#D2B4F0" stroke="#fff" stroke-width="1.2" stroke-linejoin="round"/>
<path d="M62.72,278.38 L33.52,225.27 A60.6,60.6 0 0 1 46.02,220.12 Z" fill="#7AAAAA" stroke="#fff" stroke-width="1.2" stroke-linejoin="round"/>
<path d="M62.91,278.32 L46.20,220.07 A60.6,60.6 0 0 1 56.15,218.10 Z" fill="#BE96B4" stroke="#fff" stroke-width="1.2" stroke-linejoin="round"/>
<path d="M63.03,278.30 L56.27,218.08 A60.6,60.6 0 0 1 60.81,217.74 Z" fill="#91AF82" stroke="#fff" stroke-width="1.2" stroke-linejoin="round"/>
<path d="M407.86,279.15 L407.86,219.25 A59.9,59.9 0 0 1 467.05,288.31 Z" fill="#9DC3E6" stroke="#fff" stroke-width="1.2" stroke-linejoin="round"/>
<path d="M407.91,280.38 L467.11,289.54 A59.9,59.9 0 0 1 435.85,333.37 Z" fill="#7F7F7F" stroke="#fff" stroke-width="1.2" stroke-linejoin="round"/>
<path d="M407.19,280.80 L435.13,333.78 A59.9,59.9 0 0 1 389.18,337.92 Z" fill="#EE8FA0" stroke="#fff" stroke-width="1.2" stroke-linejoin="round"/>
<path d="M406.46,280.57 L388.45,337.70 A59.9,59.9 0 0 1 353.47,308.50 Z" fill="#ADB9CA" stroke="#fff" stroke-width="1.2" stroke-linejoin="round"/>
<path d="M406.11,279.93 L353.12,307.86 A59.9,59.9 0 0 1 347.81,266.15 Z" fill="#C5E0B4" stroke="#fff" stroke-width="1.2" stroke-linejoin="round"/>
<path d="M406.27,279.24 L347.98,265.46 A59.9,59.9 0 0 1 371.31,230.60 Z" fill="#D2B4F0" stroke="#fff" stroke-width="1.2" stroke-linejoin="round"/>
<path d="M406.65,278.91 L371.69,230.26 A59.9,59.9 0 0 1 388.14,221.94 Z" fill="#7AAAAA" stroke="#fff" stroke-width="1.2" stroke-linejoin="round"/>
<path d="M406.85,278.83 L388.34,221.86 A59.9,59.9 0 0 1 396.04,219.91 Z" fill="#BE96B4" stroke="#fff" stroke-width="1.2" stroke-linejoin="round"/>
<path d="M406.97,278.81 L396.16,219.89 A59.9,59.9 0 0 1 402.38,219.08 Z" fill="#91AF82" stroke="#fff" stroke-width="1.2" stroke-linejoin="round"/>
<text x="105.70" y="258.50" font-size="8.4" text-anchor="middle" fill="#111" style="color:#111" >247</text>
<text x="74.00" y="331.80" font-size="8.4" text-anchor="middle" fill="#111" style="color:#111" >156</text>
<text x="24.30" y="314.70" font-size="8.4" text-anchor="middle" fill="#111" style="color:#111" >68</text>
<text x="11.40" y="288.20" font-size="8.4" text-anchor="middle" fill="#111" style="color:#111" >60</text>
<text x="14.90" y="263.70" font-size="8.4" text-anchor="middle" fill="#111" style="color:#111" >52</text>
<text x="29.50" y="244.20" font-size="8.4" text-anchor="middle" fill="#111" style="color:#111" >37</text>
<text x="33.40" y="216.40" font-size="8.4" text-anchor="middle" fill="#111" style="color:#111" >26</text>
<text x="48.50" y="213.60" font-size="8.4" text-anchor="middle" fill="#111" style="color:#111" >17</text>
<text x="48.90" y="196.90" font-size="8.4" text-anchor="middle" fill="#111" style="color:#111" >8</text>
<text x="73.70" y="191.40" font-size="8.4" text-anchor="middle" fill="#111" style="color:#111" >1</text>
<text x="74.40" y="205.80" font-size="8.4" text-anchor="middle" fill="#111" style="color:#111" >1</text>
<text x="86.50" y="212.50" font-size="8.4" text-anchor="middle" fill="#111" style="color:#111" >1</text>
<text x="444.10" y="253.90" font-size="8.4" text-anchor="middle" fill="#111" style="color:#111" >308</text>
<text x="446.10" y="310.10" font-size="8.4" text-anchor="middle" fill="#111" style="color:#111" >172</text>
<text x="411.10" y="333.00" font-size="8.4" text-anchor="middle" fill="#111" style="color:#111" >143</text>
<text x="375.80" y="320.50" font-size="8.4" text-anchor="middle" fill="#111" style="color:#111" >141</text>
<text x="358.70" y="288.90" font-size="8.4" text-anchor="middle" fill="#111" style="color:#111" >129</text>
<text x="366.70" y="257.70" font-size="8.4" text-anchor="middle" fill="#111" style="color:#111" >125</text>
<text x="384.10" y="239.30" font-size="8.4" text-anchor="middle" fill="#111" style="color:#111" >75</text>
<text x="372.50" y="216.10" font-size="8.4" text-anchor="middle" fill="#111" style="color:#111" >25</text>
<text x="386.60" y="209.30" font-size="8.4" text-anchor="middle" fill="#111" style="color:#111" >18</text>
<text x="396.10" y="196.80" font-size="8.4" text-anchor="middle" fill="#111" style="color:#111" >3</text>
<text x="414.90" y="196.00" font-size="8.4" text-anchor="middle" fill="#111" style="color:#111" >2</text>
<text x="415.80" y="211.70" font-size="8.4" text-anchor="middle" fill="#111" style="color:#111" >1</text>
<path d="M53.4,196.1 H58.5 V217.3" stroke="#999" fill="none" stroke-width="0.7" />
<path d="M70,190.5 H64.3 L62.3,216.3" stroke="#999" fill="none" stroke-width="0.7" />
<path d="M70,205 H64.9 L62.6,216.3" stroke="#999" fill="none" stroke-width="0.7" />
<path d="M83,211 H77.6 L62.8,216.3" stroke="#999" fill="none" stroke-width="0.7" />
<path d="M379.4,215.4 H386 L391.7,220.9" stroke="#999" fill="none" stroke-width="0.7" />
<path d="M393.5,209.1 H398.7 L399.2,220" stroke="#999" fill="none" stroke-width="0.7" />
<path d="M400,196.8 L404,218.7" stroke="#999" fill="none" stroke-width="0.7" />
<path d="M411,195.3 H405.5 V218.7" stroke="#999" fill="none" stroke-width="0.7" />
<path d="M411.8,210.6 H406.6 L406.2,218.7" stroke="#999" fill="none" stroke-width="0.7" />
<text x="188.00" y="171.80" font-size="9.84" text-anchor="middle" fill="#000" style="color:#000" >Proportion of identified metabolites in blood</text>
<text x="532.70" y="171.80" font-size="9.84" text-anchor="middle" fill="#000" style="color:#000" >Proportion of identified metabolites in urine</text>
<rect x="131.80" y="187.20" width="6.30" height="6.30" fill="#9DC3E6" />
<text x="141.40" y="193.45" font-size="9.2" text-anchor="start" fill="#111" style="color:#111" >Lipids and lipid-like molecules (36.65%)</text>
<rect x="131.80" y="200.82" width="6.30" height="6.30" fill="#A5A5A5" />
<text x="141.40" y="207.07" font-size="9.2" text-anchor="start" fill="#111" style="color:#111" >Organic acids and derivatives (23.15%)</text>
<rect x="131.80" y="214.44" width="6.30" height="6.30" fill="#EE8FA0" />
<text x="141.40" y="220.69" font-size="9.2" text-anchor="start" fill="#111" style="color:#111" >Organoheterocyclic compounds (10.09%)</text>
<rect x="131.80" y="228.06" width="6.30" height="6.30" fill="#ADB9CA" />
<text x="141.40" y="234.31" font-size="9.2" text-anchor="start" fill="#111" style="color:#111" >Benzenoids (8.90%)</text>
<rect x="131.80" y="241.68" width="6.30" height="6.30" fill="#C5E0B4" />
<text x="141.40" y="247.93" font-size="9.2" text-anchor="start" fill="#111" style="color:#111" >Undefined (7.72%)</text>
<rect x="131.80" y="255.30" width="6.30" height="6.30" fill="#D2B4F0" />
<text x="141.40" y="261.55" font-size="9.2" text-anchor="start" fill="#111" style="color:#111" >Organic oxygen compounds (5.49%)</text>
<rect x="131.80" y="268.92" width="6.30" height="6.30" fill="#7AAAAA" />
<text x="141.40" y="275.17" font-size="9.2" text-anchor="start" fill="#111" style="color:#111" >Phenylpropanoids and polyketides (3.86%)</text>
<rect x="131.80" y="282.54" width="6.30" height="6.30" fill="#BE96B4" />
<text x="141.40" y="288.79" font-size="9.2" text-anchor="start" fill="#111" style="color:#111" >Organic nitrogen compounds (2.52%)</text>
<rect x="131.80" y="296.16" width="6.30" height="6.30" fill="#9DB98F" />
<text x="141.40" y="302.41" font-size="9.2" text-anchor="start" fill="#111" style="color:#111" >Nucleosides, nucleotides, and analogues (1.19%)</text>
<rect x="131.80" y="309.78" width="6.30" height="6.30" fill="#548235" />
<text x="141.40" y="316.03" font-size="9.2" text-anchor="start" fill="#111" style="color:#111" >Alkaloids and derivatives (0.15%)</text>
<rect x="131.80" y="323.40" width="6.30" height="6.30" fill="#FF0000" />
<text x="141.40" y="329.65" font-size="9.2" text-anchor="start" fill="#111" style="color:#111" >Organohalogen compounds (0.15%)</text>
<rect x="131.80" y="337.02" width="6.30" height="6.30" fill="#CC9A06" />
<text x="141.40" y="343.27" font-size="9.2" text-anchor="start" fill="#111" style="color:#111" >Organometallic compounds (0.15%)</text>
<rect x="473.80" y="187.20" width="6.30" height="6.30" fill="#9DC3E6" />
<text x="483.40" y="193.45" font-size="9.2" text-anchor="start" fill="#111" style="color:#111" >Organic acids and derivatives (26.95%)</text>
<rect x="473.80" y="200.82" width="6.30" height="6.30" fill="#A5A5A5" />
<text x="483.40" y="207.07" font-size="9.2" text-anchor="start" fill="#111" style="color:#111" >Lipids and lipid-like molecules (15.05%)</text>
<rect x="473.80" y="214.44" width="6.30" height="6.30" fill="#EE8FA0" />
<text x="483.40" y="220.69" font-size="9.2" text-anchor="start" fill="#111" style="color:#111" >Organoheterocyclic compounds (12.51%)</text>
<rect x="473.80" y="228.06" width="6.30" height="6.30" fill="#ADB9CA" />
<text x="483.40" y="234.31" font-size="9.2" text-anchor="start" fill="#111" style="color:#111" >Undefined (12.34%)</text>
<rect x="473.80" y="241.68" width="6.30" height="6.30" fill="#C5E0B4" />
<text x="483.40" y="247.93" font-size="9.2" text-anchor="start" fill="#111" style="color:#111" >Benzenoids (11.29%)</text>
<rect x="473.80" y="255.30" width="6.30" height="6.30" fill="#D2B4F0" />
<text x="483.40" y="261.55" font-size="9.2" text-anchor="start" fill="#111" style="color:#111" >Organic oxygen compounds (10.94%)</text>
<rect x="473.80" y="268.92" width="6.30" height="6.30" fill="#7AAAAA" />
<text x="483.40" y="275.17" font-size="9.2" text-anchor="start" fill="#111" style="color:#111" >Phenylpropanoids and polyketides (6.56%)</text>
<rect x="473.80" y="282.54" width="6.30" height="6.30" fill="#BE96B4" />
<text x="483.40" y="288.79" font-size="9.2" text-anchor="start" fill="#111" style="color:#111" >Nucleosides, nucleotides, and analogues (2.19%)</text>
<rect x="473.80" y="296.16" width="6.30" height="6.30" fill="#9DB98F" />
<text x="483.40" y="302.41" font-size="9.2" text-anchor="start" fill="#111" style="color:#111" >Organic nitrogen compounds (1.57%)</text>
<rect x="473.80" y="309.78" width="6.30" height="6.30" fill="#548235" />
<text x="483.40" y="316.03" font-size="9.2" text-anchor="start" fill="#111" style="color:#111" >Alkaloids and derivatives (0.26%)</text>
<rect x="473.80" y="323.40" width="6.30" height="6.30" fill="#FF0000" />
<text x="483.40" y="329.65" font-size="9.2" text-anchor="start" fill="#111" style="color:#111" >Organosulfur compounds (0.17%)</text>
<rect x="473.80" y="337.02" width="6.30" height="6.30" fill="#CC9A06" />
<text x="483.40" y="343.27" font-size="9.2" text-anchor="start" fill="#111" style="color:#111" >Organometallic compounds (0.09%)</text>
<line x1="191.20" y1="377.40" x2="191.20" y2="482.00" stroke="#ebebeb" stroke-width="0.9" />
<line x1="224.36" y1="377.40" x2="224.36" y2="482.00" stroke="#ebebeb" stroke-width="0.9" />
<line x1="257.52" y1="377.40" x2="257.52" y2="482.00" stroke="#ebebeb" stroke-width="0.9" />
<line x1="290.68" y1="377.40" x2="290.68" y2="482.00" stroke="#ebebeb" stroke-width="0.9" />
<line x1="207.78" y1="377.40" x2="207.78" y2="482.00" stroke="#f4f4f4" stroke-width="0.5" />
<line x1="240.94" y1="377.40" x2="240.94" y2="482.00" stroke="#f4f4f4" stroke-width="0.5" />
<line x1="274.10" y1="377.40" x2="274.10" y2="482.00" stroke="#f4f4f4" stroke-width="0.5" />
<line x1="187.00" y1="384.22" x2="295.00" y2="384.22" stroke="#ebebeb" stroke-width="0.9" />
<line x1="187.00" y1="395.59" x2="295.00" y2="395.59" stroke="#ebebeb" stroke-width="0.9" />
<line x1="187.00" y1="406.96" x2="295.00" y2="406.96" stroke="#ebebeb" stroke-width="0.9" />
<line x1="187.00" y1="418.33" x2="295.00" y2="418.33" stroke="#ebebeb" stroke-width="0.9" />
<line x1="187.00" y1="429.70" x2="295.00" y2="429.70" stroke="#ebebeb" stroke-width="0.9" />
<line x1="187.00" y1="441.07" x2="295.00" y2="441.07" stroke="#ebebeb" stroke-width="0.9" />
<line x1="187.00" y1="452.44" x2="295.00" y2="452.44" stroke="#ebebeb" stroke-width="0.9" />
<line x1="187.00" y1="463.81" x2="295.00" y2="463.81" stroke="#ebebeb" stroke-width="0.9" />
<line x1="187.00" y1="475.18" x2="295.00" y2="475.18" stroke="#ebebeb" stroke-width="0.9" />
<rect x="191.20" y="379.11" width="99.48" height="10.23" fill="#E13434" stroke="#fff" stroke-width="0.5"/>
<text x="182.20" y="387.52" font-size="9.55" text-anchor="end" fill="#4d4d4d" style="color:#4d4d4d" >Bile secretion</text>
<line x1="184.80" y1="384.22" x2="187.00" y2="384.22" stroke="#333" stroke-width="0.8" />
<rect x="191.20" y="390.47" width="49.74" height="10.23" fill="#8E3E69" stroke="#fff" stroke-width="0.5"/>
<text x="182.20" y="398.89" font-size="9.55" text-anchor="end" fill="#4d4d4d" style="color:#4d4d4d" >Central carbon metabolism in cancer</text>
<line x1="184.80" y1="395.59" x2="187.00" y2="395.59" stroke="#333" stroke-width="0.8" />
<rect x="191.20" y="401.84" width="49.74" height="10.23" fill="#843E6C" stroke="#fff" stroke-width="0.5"/>
<text x="182.20" y="410.26" font-size="9.55" text-anchor="end" fill="#4d4d4d" style="color:#4d4d4d" >Protein digestion and absorption</text>
<line x1="184.80" y1="406.96" x2="187.00" y2="406.96" stroke="#333" stroke-width="0.8" />
<rect x="191.20" y="413.21" width="49.74" height="10.23" fill="#7D3E70" stroke="#fff" stroke-width="0.5"/>
<text x="182.20" y="421.63" font-size="9.55" text-anchor="end" fill="#4d4d4d" style="color:#4d4d4d" >Glycine, serine and threonine metabolism</text>
<line x1="184.80" y1="418.33" x2="187.00" y2="418.33" stroke="#333" stroke-width="0.8" />
<rect x="191.20" y="424.58" width="49.74" height="10.23" fill="#7A3E71" stroke="#fff" stroke-width="0.5"/>
<text x="182.20" y="433.00" font-size="9.55" text-anchor="end" fill="#4d4d4d" style="color:#4d4d4d" >Aminoacyl-tRNA biosynthesis</text>
<line x1="184.80" y1="429.70" x2="187.00" y2="429.70" stroke="#333" stroke-width="0.8" />
<rect x="191.20" y="435.95" width="49.74" height="10.23" fill="#733E76" stroke="#fff" stroke-width="0.5"/>
<text x="182.20" y="444.37" font-size="9.55" text-anchor="end" fill="#4d4d4d" style="color:#4d4d4d" >Phenylalanine metabolism</text>
<line x1="184.80" y1="441.07" x2="187.00" y2="441.07" stroke="#333" stroke-width="0.8" />
<rect x="191.20" y="447.32" width="33.16" height="10.23" fill="#643E7A" stroke="#fff" stroke-width="0.5"/>
<text x="182.20" y="455.74" font-size="9.55" text-anchor="end" fill="#4d4d4d" style="color:#4d4d4d" >Valine, leucine and isoleucine biosynthesis</text>
<line x1="184.80" y1="452.44" x2="187.00" y2="452.44" stroke="#333" stroke-width="0.8" />
<rect x="191.20" y="458.69" width="33.16" height="10.23" fill="#3A4287" stroke="#fff" stroke-width="0.5"/>
<text x="182.20" y="467.11" font-size="9.55" text-anchor="end" fill="#4d4d4d" style="color:#4d4d4d" >Primary bile acid biosynthesis</text>
<line x1="184.80" y1="463.81" x2="187.00" y2="463.81" stroke="#333" stroke-width="0.8" />
<rect x="191.20" y="470.06" width="16.58" height="10.23" fill="#0A4196" stroke="#fff" stroke-width="0.5"/>
<text x="182.20" y="478.48" font-size="9.55" text-anchor="end" fill="#4d4d4d" style="color:#4d4d4d" >Cholesterol metabolism</text>
<line x1="184.80" y1="475.18" x2="187.00" y2="475.18" stroke="#333" stroke-width="0.8" />
<rect x="187.0" y="377.4" width="108.0" height="104.60000000000002" fill="none" stroke="#b0b0b0" stroke-width="0.9"/>
<line x1="191.20" y1="482.00" x2="191.20" y2="484.20" stroke="#333" stroke-width="0.8" />
<text x="191.20" y="493.30" font-size="9.3" text-anchor="middle" fill="#4d4d4d" style="color:#4d4d4d" >0</text>
<line x1="224.36" y1="482.00" x2="224.36" y2="484.20" stroke="#333" stroke-width="0.8" />
<text x="224.36" y="493.30" font-size="9.3" text-anchor="middle" fill="#4d4d4d" style="color:#4d4d4d" >2</text>
<line x1="257.52" y1="482.00" x2="257.52" y2="484.20" stroke="#333" stroke-width="0.8" />
<text x="257.52" y="493.30" font-size="9.3" text-anchor="middle" fill="#4d4d4d" style="color:#4d4d4d" >4</text>
<line x1="290.68" y1="482.00" x2="290.68" y2="484.20" stroke="#333" stroke-width="0.8" />
<text x="290.68" y="493.30" font-size="9.3" text-anchor="middle" fill="#4d4d4d" style="color:#4d4d4d" >6</text>
<text x="61.90" y="371.40" font-size="9.83" text-anchor="start" fill="#000" style="color:#000" >Functional analysis of differential metabolites in blood</text>
<text x="316.20" y="389.80" font-size="9.6" text-anchor="middle" fill="#111" style="color:#111" >(PValue)</text>
<text x="315.80" y="399.60" font-size="9.6" text-anchor="middle" fill="#111" style="color:#111" >-log10</text>
<rect x="307.20" y="406.80" width="12.00" height="60.10" fill="url(#cbgrad)" />
<line x1="307.20" y1="422.40" x2="309.60" y2="422.40" stroke="#fff" stroke-width="0.6" />
<line x1="316.80" y1="422.40" x2="319.20" y2="422.40" stroke="#fff" stroke-width="0.6" />
<text x="323.80" y="425.70" font-size="9.3" text-anchor="start" fill="#111" style="color:#111" >4</text>
<line x1="307.20" y1="438.80" x2="309.60" y2="438.80" stroke="#fff" stroke-width="0.6" />
<line x1="316.80" y1="438.80" x2="319.20" y2="438.80" stroke="#fff" stroke-width="0.6" />
<text x="323.80" y="442.10" font-size="9.3" text-anchor="start" fill="#111" style="color:#111" >3</text>
<line x1="307.20" y1="455.10" x2="309.60" y2="455.10" stroke="#fff" stroke-width="0.6" />
<line x1="316.80" y1="455.10" x2="319.20" y2="455.10" stroke="#fff" stroke-width="0.6" />
<text x="323.80" y="458.40" font-size="9.3" text-anchor="start" fill="#111" style="color:#111" >2</text>
<line x1="501.90" y1="377.70" x2="501.90" y2="481.20" stroke="#ebebeb" stroke-width="0.9" />
<line x1="531.70" y1="377.70" x2="531.70" y2="481.20" stroke="#ebebeb" stroke-width="0.9" />
<line x1="561.50" y1="377.70" x2="561.50" y2="481.20" stroke="#ebebeb" stroke-width="0.9" />
<line x1="591.30" y1="377.70" x2="591.30" y2="481.20" stroke="#ebebeb" stroke-width="0.9" />
<line x1="621.10" y1="377.70" x2="621.10" y2="481.20" stroke="#ebebeb" stroke-width="0.9" />
<line x1="516.80" y1="377.70" x2="516.80" y2="481.20" stroke="#f4f4f4" stroke-width="0.5" />
<line x1="546.60" y1="377.70" x2="546.60" y2="481.20" stroke="#f4f4f4" stroke-width="0.5" />
<line x1="576.40" y1="377.70" x2="576.40" y2="481.20" stroke="#f4f4f4" stroke-width="0.5" />
<line x1="606.20" y1="377.70" x2="606.20" y2="481.20" stroke="#f4f4f4" stroke-width="0.5" />
<line x1="496.90" y1="384.45" x2="626.90" y2="384.45" stroke="#ebebeb" stroke-width="0.9" />
<line x1="496.90" y1="395.70" x2="626.90" y2="395.70" stroke="#ebebeb" stroke-width="0.9" />
<line x1="496.90" y1="406.95" x2="626.90" y2="406.95" stroke="#ebebeb" stroke-width="0.9" />
<line x1="496.90" y1="418.20" x2="626.90" y2="418.20" stroke="#ebebeb" stroke-width="0.9" />
<line x1="496.90" y1="429.45" x2="626.90" y2="429.45" stroke="#ebebeb" stroke-width="0.9" />
<line x1="496.90" y1="440.70" x2="626.90" y2="440.70" stroke="#ebebeb" stroke-width="0.9" />
<line x1="496.90" y1="451.95" x2="626.90" y2="451.95" stroke="#ebebeb" stroke-width="0.9" />
<line x1="496.90" y1="463.20" x2="626.90" y2="463.20" stroke="#ebebeb" stroke-width="0.9" />
<line x1="496.90" y1="474.45" x2="626.90" y2="474.45" stroke="#ebebeb" stroke-width="0.9" />
<rect x="501.90" y="379.39" width="119.20" height="10.12" fill="#E13434" stroke="#fff" stroke-width="0.5"/>
<text x="491.40" y="387.75" font-size="9.68" text-anchor="end" fill="#4d4d4d" style="color:#4d4d4d" >Bile secretion</text>
<line x1="494.70" y1="384.45" x2="496.90" y2="384.45" stroke="#333" stroke-width="0.8" />
<rect x="501.90" y="390.64" width="83.44" height="10.12" fill="#783E70" stroke="#fff" stroke-width="0.5"/>
<text x="491.40" y="399.00" font-size="10.1" text-anchor="end" fill="#4d4d4d" style="color:#4d4d4d" >Secondary bile acid biosynthesis</text>
<line x1="494.70" y1="395.70" x2="496.90" y2="395.70" stroke="#333" stroke-width="0.8" />
<rect x="501.90" y="401.89" width="35.76" height="10.12" fill="#3E4287" stroke="#fff" stroke-width="0.5"/>
<text x="491.40" y="410.25" font-size="9.68" text-anchor="end" fill="#4d4d4d" style="color:#4d4d4d" >Phenylalanine metabolism</text>
<line x1="494.70" y1="406.95" x2="496.90" y2="406.95" stroke="#333" stroke-width="0.8" />
<rect x="501.90" y="413.14" width="35.76" height="10.12" fill="#643E78" stroke="#fff" stroke-width="0.5"/>
<text x="491.40" y="421.50" font-size="9.68" text-anchor="end" fill="#4d4d4d" style="color:#4d4d4d" >Purine metabolism</text>
<line x1="494.70" y1="418.20" x2="496.90" y2="418.20" stroke="#333" stroke-width="0.8" />
<rect x="501.90" y="424.39" width="23.84" height="10.12" fill="#643E78" stroke="#fff" stroke-width="0.5"/>
<text x="491.40" y="432.75" font-size="9.68" text-anchor="end" fill="#4d4d4d" style="color:#4d4d4d" >Long-term depression</text>
<line x1="494.70" y1="429.45" x2="496.90" y2="429.45" stroke="#333" stroke-width="0.8" />
<rect x="501.90" y="435.64" width="23.84" height="10.12" fill="#643E78" stroke="#fff" stroke-width="0.5"/>
<text x="491.40" y="444.00" font-size="9.68" text-anchor="end" fill="#4d4d4d" style="color:#4d4d4d" >Circadian entrainment</text>
<line x1="494.70" y1="440.70" x2="496.90" y2="440.70" stroke="#333" stroke-width="0.8" />
<rect x="501.90" y="446.89" width="23.84" height="10.12" fill="#484082" stroke="#fff" stroke-width="0.5"/>
<text x="491.40" y="455.25" font-size="9.68" text-anchor="end" fill="#4d4d4d" style="color:#4d4d4d" >Insulin resistance</text>
<line x1="494.70" y1="451.95" x2="496.90" y2="451.95" stroke="#333" stroke-width="0.8" />
<rect x="501.90" y="458.14" width="23.84" height="10.12" fill="#643E78" stroke="#fff" stroke-width="0.5"/>
<text x="491.40" y="466.50" font-size="9.68" text-anchor="end" fill="#4d4d4d" style="color:#4d4d4d" >Gap junction</text>
<line x1="494.70" y1="463.20" x2="496.90" y2="463.20" stroke="#333" stroke-width="0.8" />
<rect x="501.90" y="469.39" width="11.92" height="10.12" fill="#0C4196" stroke="#fff" stroke-width="0.5"/>
<text x="491.40" y="477.75" font-size="9.68" text-anchor="end" fill="#4d4d4d" style="color:#4d4d4d" >Cholesterol metabolism</text>
<line x1="494.70" y1="474.45" x2="496.90" y2="474.45" stroke="#333" stroke-width="0.8" />
<rect x="496.9" y="377.7" width="130.0" height="103.5" fill="none" stroke="#b0b0b0" stroke-width="0.9"/>
<line x1="501.90" y1="481.20" x2="501.90" y2="483.40" stroke="#333" stroke-width="0.8" />
<text x="501.90" y="493.30" font-size="9.3" text-anchor="middle" fill="#4d4d4d" style="color:#4d4d4d" >0.0</text>
<line x1="531.70" y1="481.20" x2="531.70" y2="483.40" stroke="#333" stroke-width="0.8" />
<text x="531.70" y="493.30" font-size="9.3" text-anchor="middle" fill="#4d4d4d" style="color:#4d4d4d" >2.5</text>
<line x1="561.50" y1="481.20" x2="561.50" y2="483.40" stroke="#333" stroke-width="0.8" />
<text x="561.50" y="493.30" font-size="9.3" text-anchor="middle" fill="#4d4d4d" style="color:#4d4d4d" >5.0</text>
<line x1="591.30" y1="481.20" x2="591.30" y2="483.40" stroke="#333" stroke-width="0.8" />
<text x="591.30" y="493.30" font-size="9.3" text-anchor="middle" fill="#4d4d4d" style="color:#4d4d4d" >7.5</text>
<line x1="621.10" y1="481.20" x2="621.10" y2="483.40" stroke="#333" stroke-width="0.8" />
<text x="621.10" y="493.30" font-size="9.3" text-anchor="middle" fill="#4d4d4d" style="color:#4d4d4d" >10.0</text>
<text x="394.90" y="371.40" font-size="9.83" text-anchor="start" fill="#000" style="color:#000" >Functional analysis of differential metabolites in urine</text>
<text x="647.90" y="389.80" font-size="9.6" text-anchor="middle" fill="#111" style="color:#111" >(PValue)</text>
<text x="647.50" y="399.60" font-size="9.6" text-anchor="middle" fill="#111" style="color:#111" >-log10</text>
<rect x="638.90" y="406.80" width="12.00" height="60.10" fill="url(#cbgrad)" />
<line x1="638.90" y1="415.60" x2="641.30" y2="415.60" stroke="#fff" stroke-width="0.6" />
<line x1="648.50" y1="415.60" x2="650.90" y2="415.60" stroke="#fff" stroke-width="0.6" />
<text x="655.50" y="418.90" font-size="9.3" text-anchor="start" fill="#111" style="color:#111" >6</text>
<line x1="638.90" y1="425.80" x2="641.30" y2="425.80" stroke="#fff" stroke-width="0.6" />
<line x1="648.50" y1="425.80" x2="650.90" y2="425.80" stroke="#fff" stroke-width="0.6" />
<text x="655.50" y="429.10" font-size="9.3" text-anchor="start" fill="#111" style="color:#111" >5</text>
<line x1="638.90" y1="436.20" x2="641.30" y2="436.20" stroke="#fff" stroke-width="0.6" />
<line x1="648.50" y1="436.20" x2="650.90" y2="436.20" stroke="#fff" stroke-width="0.6" />
<text x="655.50" y="439.50" font-size="9.3" text-anchor="start" fill="#111" style="color:#111" >4</text>
<line x1="638.90" y1="446.30" x2="641.30" y2="446.30" stroke="#fff" stroke-width="0.6" />
<line x1="648.50" y1="446.30" x2="650.90" y2="446.30" stroke="#fff" stroke-width="0.6" />
<text x="655.50" y="449.60" font-size="9.3" text-anchor="start" fill="#111" style="color:#111" >3</text>
<line x1="638.90" y1="456.50" x2="641.30" y2="456.50" stroke="#fff" stroke-width="0.6" />
<line x1="648.50" y1="456.50" x2="650.90" y2="456.50" stroke="#fff" stroke-width="0.6" />
<text x="655.50" y="459.80" font-size="9.3" text-anchor="start" fill="#111" style="color:#111" >2</text>
<line x1="638.90" y1="466.80" x2="641.30" y2="466.80" stroke="#fff" stroke-width="0.6" />
<line x1="648.50" y1="466.80" x2="650.90" y2="466.80" stroke="#fff" stroke-width="0.6" />
<text x="655.50" y="470.10" font-size="9.3" text-anchor="start" fill="#111" style="color:#111" >1</text>
<rect x="9.40" y="523.30" width="325.20" height="12.10" fill="#DCC4E2" />
<rect x="9.4" y="523.3" width="325.20000000000005" height="146.30000000000007" fill="none" stroke="#a6a6a6" stroke-width="0.9"/>
<text x="36.10" y="515.20" font-size="9.9" text-anchor="start" fill="#111" style="color:#111" >Metabolites related to the bile acid metabolic pathway in blood</text>
<text x="13.10" y="533.50" font-size="9.95" text-anchor="start" fill="#111" style="color:#111" >Metabolite</text>
<text x="171.00" y="533.50" font-size="9.95" text-anchor="middle" fill="#111" style="color:#111" >Abbreviation</text>
<text x="222.60" y="533.50" font-size="9.95" text-anchor="middle" fill="#111" style="color:#111" >VIP</text>
<text x="266.80" y="533.50" font-size="9.95" text-anchor="middle" fill="#111" style="color:#111" >p-value</text>
<text x="312.20" y="533.50" font-size="9.95" text-anchor="middle" fill="#111" style="color:#111" >Regulate</text>
<text x="13.10" y="545.50" font-size="9.95" text-anchor="start" fill="#111" style="color:#111" >Apocholic acid</text>
<text x="172.00" y="545.50" font-size="9.95" text-anchor="middle" fill="#111" style="color:#111" >ApoCA</text>
<text x="222.60" y="545.50" font-size="9.95" text-anchor="middle" fill="#111" style="color:#111" >0.05250</text>
<text x="266.80" y="545.50" font-size="9.95" text-anchor="middle" fill="#111" style="color:#111" >0.3051</text>
<text x="312.20" y="545.50" font-size="9.95" text-anchor="middle" fill="#111" style="color:#111" >ns</text>
<text x="13.10" y="557.60" font-size="9.95" text-anchor="start" fill="#111" style="color:#111" >Taurochenodeoxycholic acid</text>
<text x="172.00" y="557.60" font-size="9.95" text-anchor="middle" fill="#F270DA" style="color:#F270DA" >TCDCA</text>
<text x="222.60" y="557.60" font-size="9.95" text-anchor="middle" fill="#111" style="color:#111" >2.11128</text>
<text x="266.80" y="557.60" font-size="9.95" text-anchor="middle" fill="#111" style="color:#111" >0.0032</text>
<text x="312.20" y="557.60" font-size="9.95" text-anchor="middle" fill="#F270DA" style="color:#F270DA" >up</text>
<text x="13.10" y="570.00" font-size="9.95" text-anchor="start" fill="#111" style="color:#111" >Glycocholic acid</text>
<text x="172.00" y="570.00" font-size="9.95" text-anchor="middle" fill="#78ACEA" style="color:#78ACEA" >GCA</text>
<text x="222.60" y="570.00" font-size="9.95" text-anchor="middle" fill="#111" style="color:#111" >1.89510</text>
<text x="266.80" y="570.00" font-size="9.95" text-anchor="middle" fill="#111" style="color:#111" >0.0250</text>
<text x="312.20" y="570.00" font-size="9.95" text-anchor="middle" fill="#78ACEA" style="color:#78ACEA" >down</text>
<text x="13.10" y="582.00" font-size="9.95" text-anchor="start" fill="#111" style="color:#111" >Taurodeoxycholic acid</text>
<text x="172.00" y="582.00" font-size="9.95" text-anchor="middle" fill="#78ACEA" style="color:#78ACEA" >TDCA</text>
<text x="222.60" y="582.00" font-size="9.95" text-anchor="middle" fill="#111" style="color:#111" >1.64541</text>
<text x="266.80" y="582.00" font-size="9.95" text-anchor="middle" fill="#111" style="color:#111" >0.0272</text>
<text x="312.20" y="582.00" font-size="9.95" text-anchor="middle" fill="#78ACEA" style="color:#78ACEA" >down</text>
<text x="13.10" y="594.10" font-size="9.95" text-anchor="start" fill="#111" style="color:#111" >Chenodeoxycholic acid 24-</text>
<text x="10.40" y="606.10" font-size="9.95" text-anchor="start" fill="#111" style="color:#111" >acyl-.beta.-d-glucuronide</text>
<text x="172.00" y="600.10" font-size="9.95" text-anchor="middle" fill="#111" style="color:#111" >24-CDCA</text>
<text x="222.60" y="600.10" font-size="9.95" text-anchor="middle" fill="#111" style="color:#111" >1.22821</text>
<text x="266.80" y="600.10" font-size="9.95" text-anchor="middle" fill="#111" style="color:#111" >0.2911</text>
<text x="312.20" y="600.10" font-size="9.95" text-anchor="middle" fill="#111" style="color:#111" >ns</text>
<text x="13.10" y="618.20" font-size="9.95" text-anchor="start" fill="#111" style="color:#111" >Ursodeoxycholic acid</text>
<text x="172.00" y="618.20" font-size="9.95" text-anchor="middle" fill="#111" style="color:#111" >UDCA</text>
<text x="222.60" y="618.20" font-size="9.95" text-anchor="middle" fill="#111" style="color:#111" >0.05060</text>
<text x="266.80" y="618.20" font-size="9.95" text-anchor="middle" fill="#111" style="color:#111" >0.4075</text>
<text x="312.20" y="618.20" font-size="9.95" text-anchor="middle" fill="#111" style="color:#111" >ns</text>
<text x="13.10" y="630.20" font-size="9.95" text-anchor="start" fill="#111" style="color:#111" >Taurolithocholic acid sulfate</text>
<text x="172.00" y="630.20" font-size="9.95" text-anchor="middle" fill="#111" style="color:#111" >TLCA</text>
<text x="222.60" y="630.20" font-size="9.95" text-anchor="middle" fill="#111" style="color:#111" >0.65474</text>
<text x="266.80" y="630.20" font-size="9.95" text-anchor="middle" fill="#111" style="color:#111" >0.2424</text>
<text x="312.20" y="630.20" font-size="9.95" text-anchor="middle" fill="#111" style="color:#111" >ns</text>
<text x="13.10" y="642.90" font-size="9.95" text-anchor="start" fill="#111" style="color:#111" >Glycochenodeoxycholic acid</text>
<text x="172.00" y="642.90" font-size="9.95" text-anchor="middle" fill="#111" style="color:#111" >GCDCA</text>
<text x="222.60" y="642.90" font-size="9.95" text-anchor="middle" fill="#111" style="color:#111" >0.56579</text>
<text x="266.80" y="642.90" font-size="9.95" text-anchor="middle" fill="#111" style="color:#111" >0.1671</text>
<text x="312.20" y="642.90" font-size="9.95" text-anchor="middle" fill="#111" style="color:#111" >ns</text>
<text x="13.10" y="655.00" font-size="9.95" text-anchor="start" fill="#111" style="color:#111" >Cholic acid</text>
<text x="172.00" y="655.00" font-size="9.95" text-anchor="middle" fill="#F270DA" style="color:#F270DA" >CA</text>
<text x="222.60" y="655.00" font-size="9.95" text-anchor="middle" fill="#111" style="color:#111" >1.14894</text>
<text x="266.80" y="655.00" font-size="9.95" text-anchor="middle" fill="#111" style="color:#111" >0.0229</text>
<text x="312.20" y="655.00" font-size="9.95" text-anchor="middle" fill="#F270DA" style="color:#F270DA" >up</text>
<text x="13.10" y="667.00" font-size="9.95" text-anchor="start" fill="#111" style="color:#111" >Tauroursodeoxycholic acid</text>
<text x="172.00" y="667.00" font-size="9.95" text-anchor="middle" fill="#F270DA" style="color:#F270DA" >TUDCA</text>
<text x="222.60" y="667.00" font-size="9.95" text-anchor="middle" fill="#111" style="color:#111" >1.65523</text>
<text x="266.80" y="667.00" font-size="9.95" text-anchor="middle" fill="#111" style="color:#111" >0.0043</text>
<text x="312.20" y="667.00" font-size="9.95" text-anchor="middle" fill="#F270DA" style="color:#F270DA" >up</text>
<rect x="353.60" y="523.60" width="324.40" height="12.10" fill="#DCC4E2" />
<rect x="353.6" y="523.6" width="324.4" height="146.19999999999993" fill="none" stroke="#a6a6a6" stroke-width="0.9"/>
<text x="380.50" y="515.20" font-size="9.9" text-anchor="start" fill="#111" style="color:#111" >Metabolites related to the bile acid metabolic pathway in urine</text>
<text x="357.10" y="533.50" font-size="9.95" text-anchor="start" fill="#111" style="color:#111" >Metabolite</text>
<text x="514.90" y="533.50" font-size="9.95" text-anchor="middle" fill="#111" style="color:#111" >Abbreviation</text>
<text x="566.50" y="533.50" font-size="9.95" text-anchor="middle" fill="#111" style="color:#111" >VIP</text>
<text x="610.70" y="533.50" font-size="9.95" text-anchor="middle" fill="#111" style="color:#111" >p-value</text>
<text x="655.90" y="533.50" font-size="9.95" text-anchor="middle" fill="#111" style="color:#111" >Regulate</text>
<text x="357.10" y="547.70" font-size="9.95" text-anchor="start" fill="#111" style="color:#111" >Cholic acid</text>
<text x="515.90" y="547.70" font-size="9.95" text-anchor="middle" fill="#111" style="color:#111" >CA</text>
<text x="566.50" y="547.70" font-size="9.95" text-anchor="middle" fill="#111" style="color:#111" >0.5854</text>
<text x="610.70" y="547.70" font-size="9.95" text-anchor="middle" fill="#111" style="color:#111" >0.2997</text>
<text x="655.90" y="547.70" font-size="9.95" text-anchor="middle" fill="#111" style="color:#111" >ns</text>
<text x="357.10" y="562.40" font-size="9.95" text-anchor="start" fill="#111" style="color:#111" >Glycodeoxycholic acid</text>
<text x="515.90" y="562.40" font-size="9.95" text-anchor="middle" fill="#111" style="color:#111" >GDCA</text>
<text x="566.50" y="562.40" font-size="9.95" text-anchor="middle" fill="#111" style="color:#111" >0.5705</text>
<text x="610.70" y="562.40" font-size="9.95" text-anchor="middle" fill="#111" style="color:#111" >0.4211</text>
<text x="655.90" y="562.40" font-size="9.95" text-anchor="middle" fill="#111" style="color:#111" >ns</text>
<text x="357.10" y="577.30" font-size="9.95" text-anchor="start" fill="#111" style="color:#111" >Taurochenodeoxycholic acid</text>
<text x="515.90" y="577.30" font-size="9.95" text-anchor="middle" fill="#F270DA" style="color:#F270DA" >TCDCA</text>
<text x="566.50" y="577.30" font-size="9.95" text-anchor="middle" fill="#111" style="color:#111" >1.5817</text>
<text x="610.70" y="577.30" font-size="9.95" text-anchor="middle" fill="#111" style="color:#111" >0.0445</text>
<text x="655.90" y="577.30" font-size="9.95" text-anchor="middle" fill="#F270DA" style="color:#F270DA" >up</text>
<text x="357.10" y="592.50" font-size="9.95" text-anchor="start" fill="#111" style="color:#111" >Taurolithocholic acid sulfate</text>
<text x="515.90" y="592.50" font-size="9.95" text-anchor="middle" fill="#F270DA" style="color:#F270DA" >TLCA</text>
<text x="566.50" y="592.50" font-size="9.95" text-anchor="middle" fill="#111" style="color:#111" >1.8016</text>
<text x="610.70" y="592.50" font-size="9.95" text-anchor="middle" fill="#111" style="color:#111" >0.0108</text>
<text x="655.90" y="592.50" font-size="9.95" text-anchor="middle" fill="#F270DA" style="color:#F270DA" >up</text>
<text x="357.10" y="607.40" font-size="9.95" text-anchor="start" fill="#111" style="color:#111" >Tauroursodeoxycholic acid</text>
<text x="515.90" y="607.40" font-size="9.95" text-anchor="middle" fill="#F270DA" style="color:#F270DA" >TUDCA</text>
<text x="566.50" y="607.40" font-size="9.95" text-anchor="middle" fill="#111" style="color:#111" >1.7716</text>
<text x="610.70" y="607.40" font-size="9.95" text-anchor="middle" fill="#111" style="color:#111" >0.0269</text>
<text x="655.90" y="607.40" font-size="9.95" text-anchor="middle" fill="#F270DA" style="color:#F270DA" >up</text>
<text x="357.10" y="623.60" font-size="9.95" text-anchor="start" fill="#111" style="color:#111" >Chenodeoxycholic acid 24-</text>
<text x="354.60" y="635.20" font-size="9.95" text-anchor="start" fill="#111" style="color:#111" >acyl-.beta.-d-glucuronide</text>
<text x="515.90" y="629.40" font-size="9.95" text-anchor="middle" fill="#111" style="color:#111" >24-CDCA</text>
<text x="566.50" y="629.40" font-size="9.95" text-anchor="middle" fill="#111" style="color:#111" >0.9538</text>
<text x="610.70" y="629.40" font-size="9.95" text-anchor="middle" fill="#111" style="color:#111" >0.2648</text>
<text x="655.90" y="629.40" font-size="9.95" text-anchor="middle" fill="#111" style="color:#111" >ns</text>
<text x="357.10" y="651.20" font-size="9.95" text-anchor="start" fill="#111" style="color:#111" >Ursocholic acid</text>
<text x="515.90" y="651.20" font-size="9.95" text-anchor="middle" fill="#111" style="color:#111" >UCA</text>
<text x="566.50" y="651.20" font-size="9.95" text-anchor="middle" fill="#111" style="color:#111" >0.4800</text>
<text x="610.70" y="651.20" font-size="9.95" text-anchor="middle" fill="#111" style="color:#111" >0.4495</text>
<text x="655.90" y="651.20" font-size="9.95" text-anchor="middle" fill="#111" style="color:#111" >ns</text>
<text x="357.10" y="666.50" font-size="9.95" text-anchor="start" fill="#111" style="color:#111" >Deoxycholic acid</text>
<text x="515.90" y="666.50" font-size="9.95" text-anchor="middle" fill="#111" style="color:#111" >DCA</text>
<text x="566.50" y="666.50" font-size="9.95" text-anchor="middle" fill="#111" style="color:#111" >0.6071</text>
<text x="610.70" y="666.50" font-size="9.95" text-anchor="middle" fill="#111" style="color:#111" >0.6185</text>
<text x="655.90" y="666.50" font-size="9.95" text-anchor="middle" fill="#111" style="color:#111" >ns</text>
</svg>
</body></html>
